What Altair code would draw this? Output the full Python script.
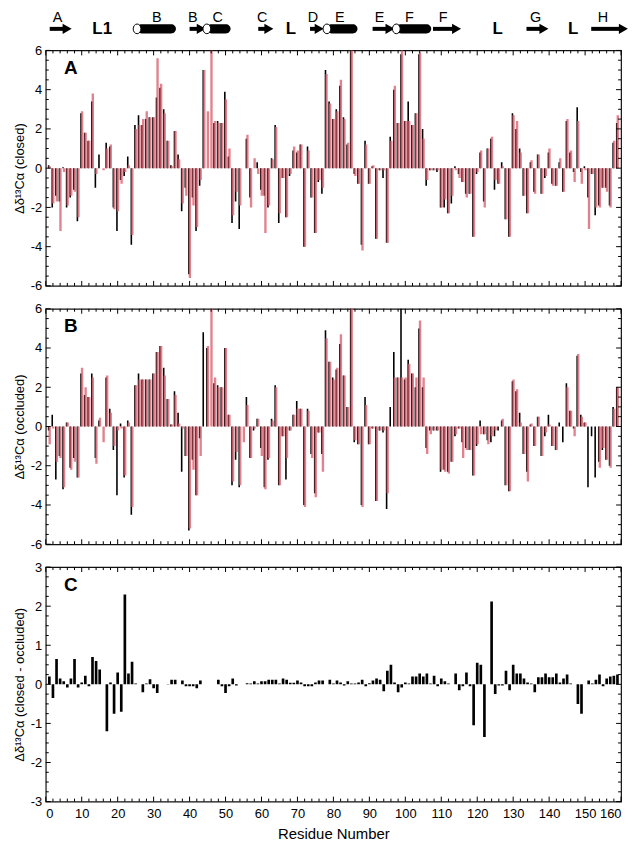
import altair as alt
import pandas as pd

residues = list(range(1, 160))

closed_black = [
    0.15, -2.0, -1.4, -1.7, 0.05, -2.0, -1.5, -1.1, -2.7, 2.8,
    1.8, 1.4, 3.4, -1.0, 0.7, 0.0, 1.3, 1.1, -2.0, -3.2,
    -0.6, -0.4, 0.6, -3.9, 2.2, 2.7, 2.2, 2.5, 2.6, 2.6,
    3.6, 4.1, 3.0, 1.4, 0.15, 1.9, 0.7, -2.2, -1.0, -5.4,
    -1.5, -3.2, -0.9, 5.0, 0.0, 0.0, 2.3, 2.4, 2.3, 3.9,
    0.6, -2.8, -1.7, -3.1, 0.0, 1.5, -1.5, 0.0, 0.3, -1.1,
    -1.4, -2.0, 0.5, 2.2, -2.8, -0.5, -2.5, -0.4, 0.9, 0.8,
    1.2, -4.0, 1.1, -1.5, -3.3, -0.7, -1.3, 5.0, 3.4, 2.5,
    3.0, 4.2, 2.6, 1.2, 6.2, -0.3, -0.8, -3.9, 1.4, -0.8,
    0.1, -3.6, -0.1, -0.5, -3.8, 1.6, 4.0, 2.3, 5.8, 2.4,
    3.4, 2.2, 2.8, 5.8, 2.0, -0.9, -0.1, -0.1, -0.2, -2.0,
    -2.0, -2.3, -1.8, 0.1, -0.3, -0.7, -1.3, -1.3, -3.5, -0.3,
    0.8, -1.7, 1.0, 1.5, -1.1, -0.8, 0.3, -2.6, -3.5, 2.8,
    2.0, 1.0, -1.4, -2.3, 0.3, -1.2, 0.7, -1.3, -0.5, 0.8,
    -0.8, -0.9, 0.3, -1.2, 2.4, 0.8, -0.2, 3.1, -0.2, 0.1,
    -1.5, -0.3, -2.4, -1.9, -1.0, -1.0, -1.9, 1.3, 2.3,
]
closed_red = [
    0.1, -1.8, -1.7, -3.2, -0.2, -1.9, -1.4, -1.2, -2.5, 2.9,
    1.8, 1.4, 3.8, -0.3, 0.0, -0.1, 1.0, 1.2, -2.1, -2.2,
    -0.8, -0.2, 0.15, -3.4, 2.0, 2.2, 2.5, 2.9, 2.6, 2.6,
    5.6, 4.3, 2.8, 1.4, 0.1, 1.9, 0.45, -1.8, -1.4, -5.6,
    -1.9, -3.0, -0.6, 5.0, 2.9, 6.2, 2.4, 2.3, 2.3, 3.5,
    1.0, -2.4, -1.2, -1.9, 0.0, 1.7, -2.0, 0.5, -0.3, -1.4,
    -3.3, -1.9, 0.45, 2.1, -2.3, -0.5, -2.5, -0.3, 1.1, 0.9,
    1.2, -4.0, 0.9, -1.5, -3.3, -0.6, -1.0, 4.8, 3.3, 2.5,
    2.9, 4.5, 2.5, 1.3, 6.2, -0.4, -0.8, -4.2, 1.2, -0.8,
    0.15, -3.6, -0.1, -0.1, -3.8, 1.4, 4.2, 2.3, 6.1, 2.4,
    2.4, 2.2, 2.8, 5.9, 1.5, -0.6, -0.1, -0.1, -0.1, -2.0,
    -1.6, -2.3, -1.4, -0.1, -0.5, -0.7, -1.5, -1.3, -3.5, -0.2,
    0.9, -2.0, 1.0, 1.6, -0.6, -0.8, 0.1, -2.6, -3.5, 2.7,
    2.4, 0.8, -1.4, -2.3, 0.4, -1.3, 0.7, -1.3, -0.4, 1.0,
    -0.9, -0.9, 0.5, -1.2, 2.5, 0.9, -0.7, 2.4, -0.8, -0.1,
    -3.1, -0.3, -2.0, -2.0, -1.0, -1.2, -2.0, 1.4, 2.7,
]
occluded_black = [
    -0.2, 0.6, -2.7, -1.5, -3.2, 0.2, -2.1, -1.6, -2.6, 2.7,
    1.6, 1.5, 2.7, -1.6, 0.3, 0.0, 2.5, 0.9, -1.2, -3.5,
    0.15, -2.6, 0.3, -4.5, 2.1, 2.7, 2.4, 2.4, 2.4, 2.7,
    3.8, 4.1, 3.0, 1.4, 0.1, 1.8, 0.7, -2.3, -1.5, -5.3,
    -1.7, -3.5, -0.6, 4.8, 4.0, 0.0, 2.2, 2.1, 2.0, 4.0,
    0.6, -3.0, -1.7, -3.1, 0.0, 1.5, -1.6, -0.2, 0.4, -1.1,
    -3.1, -1.7, 0.4, 2.1, -3.0, -0.5, -2.7, -0.2, 0.6, 1.3,
    0.9, -4.0, 0.9, -1.4, -3.4, -0.3, -1.4, 4.9, 3.3, 2.5,
    2.9, 4.2, 2.6, 1.0, 6.2, -0.8, -0.9, -4.0, 1.5, -0.9,
    -0.1, -3.8, -0.2, -0.3, -4.2, 1.0, 3.8, 2.5, 6.2, 2.4,
    3.4, 2.7, 2.0, 5.0, 2.0, -1.1, -0.2, -0.2, -0.2, -2.3,
    -2.2, -2.3, -1.8, -0.5, -0.1, -0.8, -1.1, -1.2, -2.5, -1.0,
    0.3, -0.4, -0.7, -0.8, -0.5, -0.2, 0.3, -3.0, -3.3, 2.3,
    1.8, 0.7, -1.4, -2.3, 0.1, -1.0, 0.5, -1.5, -0.5, 0.6,
    -1.0, -1.2, 0.2, -0.8, 2.2, 0.8, -0.1, 3.6, 0.6, 0.2,
    -3.1, -0.5, -2.6, -1.8, -1.2, -1.7, -2.0, 1.0, 2.0,
]
occluded_red = [
    -0.9, -0.1, -1.8, -1.6, -3.1, 0.2, -2.2, -1.8, -2.6, 3.0,
    2.0, 1.5, 2.5, -1.9, 0.45, -0.8, 2.6, 0.7, -1.0, -0.2,
    -0.1, -2.5, 0.2, -4.1, 2.1, 2.4, 2.4, 2.4, 2.4, 2.7,
    3.8, 4.1, 2.6, 1.4, 0.1, 1.6, 0.15, -0.1, -1.5, -5.2,
    -2.2, -3.5, -1.5, 0.0, 4.1, 6.2, 2.5, 2.0, 2.0, 4.0,
    0.6, -2.8, -1.3, -3.0, -0.8, 1.1, -1.6, -0.1, 0.4, -1.5,
    -3.2, -1.6, 0.3, 2.0, -3.0, -0.5, -1.6, -0.2, 0.6, 0.9,
    0.9, -4.1, 0.8, -1.6, -3.6, -0.3, -2.3, 4.5, 3.3, 2.4,
    3.0, 4.7, 2.6, 1.0, 6.2, -0.7, -0.9, -4.1, 1.1, -0.9,
    -0.1, -3.8, -0.2, -0.2, -3.4, 0.0, 2.5, 2.5, 2.5, 2.5,
    3.2, 2.7, 2.5, 5.4, 2.5, -1.4, -0.4, -0.2, -0.2, -2.2,
    -2.3, -2.4, -1.8, -0.4, -0.1, -1.6, -1.2, -1.2, -2.5, -0.9,
    -0.4, -0.4, -0.9, -0.5, -0.2, 0.0, 0.4, -3.0, -3.3, 2.4,
    1.9, 0.2, -1.4, -2.8, 0.15, -1.0, 0.5, -1.5, -0.3, 0.1,
    -1.0, -1.2, 0.0, 0.0, 2.0, 0.8, -0.5, 3.7, 0.5, 0.2,
    0.0, 0.0, 0.0, -2.1, -1.1, -1.7, -2.1, 0.9, 2.0,
]
difference = [
    0.2, -0.35, 0.65, 0.15, 0.08, -0.08, 0.15, 0.65, -0.08, 0.05,
    0.22, -0.05, 0.7, 0.6, 0.38, 0.0, -1.2, 0.05, -0.75, 0.3,
    -0.7, 2.3, 0.28, 0.58, 0.02, 0.0, -0.2, 0.02, 0.13, -0.1,
    -0.22, 0.0, 0.0, 0.01, 0.12, 0.12, 0.0, 0.1, -0.05, -0.05,
    -0.05, -0.1, 0.1, None, None, None, None, 0.12, -0.05, -0.22,
    -0.05, 0.15, -0.03, None, None, 0.03, 0.02, 0.08, 0.02, 0.08,
    0.08, 0.12, 0.12, 0.12, 0.02, 0.15, 0.12, 0.04, 0.04, 0.1,
    0.05, -0.05, -0.05, -0.05, 0.05, 0.1, 0.1, 0.0, 0.12, 0.02,
    0.1, 0.05, -0.03, 0.08, 0.02, 0.02, 0.05, 0.12, -0.05, 0.03,
    0.1, 0.15, 0.12, -0.18, 0.35, 0.5, 0.05, -0.2, -0.08, 0.05,
    0.02, 0.2, 0.2, 0.28, 0.2, 0.28, 0.02, 0.22, -0.05, 0.15,
    0.08, 0.02, 0.0, 0.28, -0.15, -0.05, 0.3, -0.05, -1.05, 0.55,
    0.5, -1.35, 0.0, 2.12, -0.25, -0.03, -0.03, 0.35, -0.15, 0.5,
    0.28, 0.28, 0.15, 0.05, 0.02, -0.2, 0.18, 0.18, 0.28, 0.18,
    0.18, 0.28, 0.05, 0.15, 0.25, 0.02, 0.0, -0.5, -0.75, 0.0,
    0.1, 0.02, 0.12, 0.25, -0.05, 0.15, 0.2, 0.22, 0.25,
]

for arr in (closed_black, closed_red, occluded_black, occluded_red, difference):
    assert len(arr) == len(residues), len(arr)

# secondary structure annotations (residue units)
strand_start = [1.1, 40.0, 59.1, 73.5, 90.9, 107.7, 133.7, 151.7]
strand_end = [7.2, 44.5, 63.3, 77.3, 97.0, 115.5, 139.8, 161.9]
helix_start = [25.4, 44.8, 78.2, 97.5]
helix_end = [36.2, 51.4, 86.7, 107.2]
ss_labels = ["A", "B", "B", "C", "C", "D", "E", "E", "F", "F", "G", "H"]
ss_label_pos = [3.3, 30.9, 40.9, 47.8, 60.2, 74.3, 81.8, 92.8, 101.1, 110.5, 136.2, 155.0]
loop_labels = ["L1", "L", "L", "L"]
loop_pos = [15.7, 68.2, 125.7, 146.7]

x_major = list(range(0, 161, 10))
x_minor = [v for v in range(0, 161, 2) if v % 10]

FONT = "Liberation Sans"
W, H, HC = 579, 237, 236
PINK = "#d8606e"

xscale = alt.Scale(domain=[0, 160], nice=False, zero=False)


def bar_table(vals, lo, hi):
    df = pd.DataFrame({"a": [r + lo for r in residues],
                       "b": [r + hi for r in residues],
                       "v": vals})
    return df.dropna()


def y_axis(title, values):
    return alt.Axis(values=values, title=title, labelExpr="datum.value",
                    ticks=False, domain=False, grid=False,
                    labelFontSize=13, labelPadding=4, labelColor="black",
                    titleFontSize=13, titleFontWeight="normal",
                    titlePadding=4, titleColor="black")


def frame_ticks(yscale, yax, xax, y_major, y_minor, h):
    layers = []
    for vals, ln in ((x_major, 5), (x_minor, 3)):
        base = alt.Chart(pd.DataFrame({"v": vals})).mark_rule(color="black", strokeWidth=1)
        xe = alt.X("v:Q", scale=xscale, axis=xax)
        layers.append(base.encode(x=xe, y=alt.value(h), y2=alt.value(h - ln)))
        layers.append(base.encode(x=xe, y=alt.value(0), y2=alt.value(ln)))
    for vals, ln in ((y_major, 5), (y_minor, 3)):
        base = alt.Chart(pd.DataFrame({"v": vals})).mark_rule(color="black", strokeWidth=1)
        ye = alt.Y("v:Q", scale=yscale, axis=yax)
        layers.append(base.encode(y=ye, x=alt.value(0), x2=alt.value(ln)))
        layers.append(base.encode(y=ye, x=alt.value(W), x2=alt.value(W - ln)))
    return layers


def panel(layer_specs, yscale, yax, xax, y_major, y_minor, h, letter, letter_y):
    layers = []
    for df, color, opacity in layer_specs:
        layers.append(alt.Chart(df).mark_bar(color=color, opacity=opacity, clip=True).encode(
            x=alt.X("a:Q", scale=xscale, axis=xax), x2="b:Q",
            y=alt.Y("v:Q", scale=yscale, axis=yax), y2=alt.datum(0)))
    lab = alt.Chart(pd.DataFrame({"x": [7.0], "y": [letter_y], "t": [letter]})).mark_text(
        fontSize=19, fontWeight="bold", color="black").encode(
        x=alt.X("x:Q", scale=xscale, axis=xax), y=alt.Y("y:Q", scale=yscale, axis=yax), text="t:N")
    layers.append(lab)
    layers += frame_ticks(yscale, yax, xax, y_major, y_minor, h)
    return alt.layer(*layers).properties(width=W, height=h)


def shift_panel(black_vals, red_vals, ylabel, letter):
    yscale = alt.Scale(domain=[-6, 6], nice=False, zero=False)
    y_major = list(range(-6, 7, 2))
    y_minor = [v / 2 for v in range(-12, 13) if v % 4]
    yax = y_axis(ylabel, y_major)
    specs = [(bar_table(black_vals, -0.42, 0.02), "black", 1.0),
             (bar_table(red_vals, -0.24, 0.42), PINK, 0.78)]
    return panel(specs, yscale, yax, None, y_major, y_minor, H, letter, 5.1)


def diff_panel():
    yscale = alt.Scale(domain=[-3, 3], nice=False, zero=False)
    y_major = list(range(-3, 4))
    y_minor = [v / 4 for v in range(-12, 13) if v % 4]
    yax = y_axis("Δδ¹³Cα (closed - occluded)", y_major)
    xax = alt.Axis(values=x_major, labelExpr="datum.value", title="Residue Number",
                   ticks=False, domain=False, grid=False, labelFontSize=13, labelPadding=6,
                   labelColor="black", titleFontSize=15, titleFontWeight="normal",
                   titlePadding=6, titleColor="black")
    specs = [(bar_table(difference, -0.37, 0.37), "black", 1.0)]
    return panel(specs, yscale, yax, xax, y_major, y_minor, HC, "C", 2.55)


# annotation strip (y scale 0..10)
AH = 35
ys = alt.Scale(domain=[0, 10], nice=False, zero=False)
head = 2.2
SS_Y = 6.2
LAB_Y = 9.4
shaft_df = pd.DataFrame({"a": strand_start, "b": [e - head for e in strand_end], "y": SS_Y})
head_df = pd.DataFrame({"a": [e - 1.25 for e in strand_end], "y": SS_Y})
cyl_df = pd.DataFrame({"a": helix_start, "b": helix_end, "y": SS_Y - 1.35, "y2": SS_Y + 1.35})
ell_df = pd.DataFrame({"a": helix_start, "y": SS_Y})
lab_df = pd.DataFrame({"a": ss_label_pos, "y": LAB_Y, "t": ss_labels})
loop_df = pd.DataFrame({"a": loop_pos, "y": SS_Y - 0.1, "t": loop_labels})

ax_x = alt.X("a:Q", scale=xscale, axis=None)
ax_y = alt.Y("y:Q", scale=ys, axis=None)
shafts = alt.Chart(shaft_df).mark_rule(strokeWidth=4, color="black", strokeCap="butt").encode(
    x=ax_x, x2="b:Q", y=ax_y)
heads = alt.Chart(head_df).mark_point(shape="triangle-right", filled=True, size=110, color="black", opacity=1).encode(
    x=ax_x, y=ax_y)
cyls = alt.Chart(cyl_df).mark_bar(color="black", cornerRadius=4.8).encode(
    x=ax_x, x2="b:Q", y=ax_y, y2="y2:Q")
ells = alt.Chart(ell_df).mark_point(
    shape="M0,-1A0.8,1,0,1,1,0,1A0.8,1,0,1,1,0,-1Z", filled=True, fill="white",
    stroke="black", strokeWidth=1, size=95, opacity=1, fillOpacity=1).encode(x=ax_x, y=ax_y)
letters = alt.Chart(lab_df).mark_text(fontSize=14.5, color="black").encode(
    x=ax_x, y=ax_y, text="t:N")
loops = alt.Chart(loop_df).mark_text(fontSize=17, fontWeight="bold", color="black").encode(
    x=ax_x, y=ax_y, text="t:N")

annot = alt.layer(shafts, heads, cyls, ells, letters, loops).properties(
    width=W, height=AH, view=alt.ViewBackground(stroke="transparent"))

panel_a = shift_panel(closed_black, closed_red, "Δδ¹³Cα (closed)", "A")
panel_b = shift_panel(occluded_black, occluded_red, "Δδ¹³Cα (occluded)", "B")
panel_c = diff_panel()

inner = alt.vconcat(panel_a, panel_b, panel_c, spacing=23, bounds="flush")
chart = alt.vconcat(annot, inner, spacing=0, bounds="flush").properties(
    padding={"left": 4, "top": -2, "right": 0, "bottom": 0}
).configure(font=FONT).configure_view(stroke="#111111", strokeWidth=1.2)

chart.save("out.html", embed_options={"renderer": "svg", "actions": False})
